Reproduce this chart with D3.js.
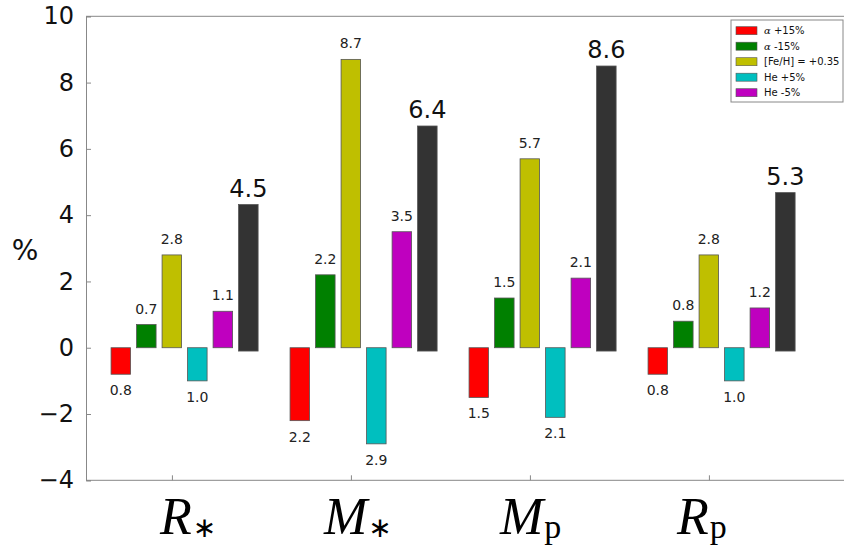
<!DOCTYPE html>
<html>
<head>
<meta charset="utf-8">
<script src="https://cdn.jsdelivr.net/npm/d3@7/dist/d3.min.js"></script>
<style>
  html, body { margin: 0; padding: 0; background: #fff; }
  svg { display: block; }
</style>
</head>
<body>
<svg id="chart" width="844" height="547"></svg>
<script>
// ---------------- data ----------------
const categories = [
  { base: "R", sub: "∗" },
  { base: "M", sub: "∗" },
  { base: "M", sub: "p" },
  { base: "R", sub: "p" }
];
const seriesNames = ["α +15%", "α -15%", "[Fe/H] = +0.35", "He +5%", "He -5%"];
const seriesColors = ["#ff0000", "#008000", "#bfbf00", "#00bfbf", "#bf00bf"];
const alphaPlus  = [-0.8, -2.2, -1.5, -0.8];
const alphaMinus = [0.7, 2.2, 1.5, 0.8];
const feh        = [2.8, 8.7, 5.7, 2.8];
const hePlus     = [-1.0, -2.9, -2.1, -1.0];
const heMinus    = [1.1, 3.5, 2.1, 1.2];
const totalTop    = [4.32, 6.69, 8.5, 4.68];
const totalBase   = -0.1;
const totalLabels = ["4.5", "6.4", "8.6", "5.3"];
const totalColor  = "#333333";
const yTicks = [-4, -2, 0, 2, 4, 6, 8, 10];

const seriesValues = [alphaPlus, alphaMinus, feh, hePlus, heMinus];

// ---------------- layout ----------------
const svg = d3.select("#chart");
const plotLeft = 86, plotTop = 16.3, plotBottom = 480.3, plotRight = 850;

const y = d3.scaleLinear().domain([-4, 10]).range([plotBottom, plotTop]);
// x in "group units": group i starts at i, bar j at i + j*step
const x = d3.scaleLinear().domain([-0.14, 4.33]).range([plotLeft, plotLeft + 4.47 * 179]);
const step = 0.1425, barW = 0.109, tickOffset = 0.34;
// label start offsets (px) relative to each tick, layout only
const labelShift = [-12, -27, -30, -32];

// frame
const axisColor = "#888";
svg.append("line").attr("x1", plotLeft).attr("x2", plotRight)
  .attr("y1", plotTop).attr("y2", plotTop)
  .attr("stroke", axisColor).attr("stroke-width", 1);

// y axis
const yAxis = d3.axisLeft(y).tickValues(yTicks).tickSize(-5).tickPadding(12)
  .tickFormat(d3.format("d"));
const gy = svg.append("g").attr("transform", `translate(${plotLeft},0)`).call(yAxis);
gy.select(".domain").attr("stroke", axisColor);
gy.selectAll(".tick line").attr("stroke", axisColor);
gy.selectAll(".tick text").attr("font-family", "DejaVu Sans").attr("font-size", 24)
  .attr("fill", "#111");

// x axis
const xAxis = d3.axisBottom(x).tickValues(categories.map((c, i) => i + tickOffset))
  .tickSize(-5).tickFormat("");
const gx = svg.append("g").attr("transform", `translate(0,${plotBottom})`).call(xAxis);
gx.select(".domain").attr("stroke", axisColor).attr("d", `M${plotLeft},0H${plotRight}`);
gx.selectAll(".tick line").attr("stroke", axisColor);

// category labels (math-style)
categories.forEach((c, i) => {
  const t = svg.append("text")
    .attr("x", x(i + tickOffset) + labelShift[i]).attr("y", 534)
    .attr("text-anchor", "start")
    .attr("font-family", "Liberation Serif")
    .attr("font-size", 52).attr("fill", "#000");
  t.append("tspan").attr("font-style", "italic").text(c.base);
  if (c.sub === "∗") {
    t.append("tspan").attr("font-size", 28).attr("dy", 3).attr("dx", 1)
      .attr("font-family", "DejaVu Sans").text(c.sub);
  } else {
    t.append("tspan").attr("font-size", 34).attr("dy", 4).attr("dx", 1)
      .attr("font-family", "Liberation Serif").text(c.sub);
  }
});

// y label
svg.append("text").attr("x", 25).attr("y", 260).attr("text-anchor", "middle")
  .attr("font-family", "DejaVu Sans").attr("font-size", 28).attr("fill", "#111").text("%");

// bars
const bars = [];
seriesValues.forEach((vals, j) => {
  vals.forEach((v, i) => bars.push({ i, j, v, color: seriesColors[j] }));
});
svg.append("g").selectAll("rect.b").data(bars).join("rect")
  .attr("x", d => x(d.i + d.j * step))
  .attr("width", x(barW) - x(0))
  .attr("y", d => y(Math.max(0, d.v)))
  .attr("height", d => Math.abs(y(d.v) - y(0)))
  .attr("fill", d => d.color)
  .attr("stroke", "#555").attr("stroke-width", 0.8);

svg.append("g").selectAll("text").data(bars).join("text")
  .attr("x", d => x(d.i + d.j * step + barW / 2))
  .attr("y", d => d.v >= 0 ? y(d.v) - 11 : y(d.v) + 21)
  .attr("text-anchor", "middle")
  .attr("font-family", "DejaVu Sans").attr("font-size", 14).attr("fill", "#222")
  .text(d => Math.abs(d.v).toFixed(1));

// total bars
const totals = totalTop.map((v, i) => ({ i, v, label: totalLabels[i] }));
svg.append("g").selectAll("rect").data(totals).join("rect")
  .attr("x", d => x(d.i + 5 * step))
  .attr("width", x(barW) - x(0))
  .attr("y", d => y(d.v))
  .attr("height", d => y(totalBase) - y(d.v))
  .attr("fill", totalColor).attr("stroke", "#555").attr("stroke-width", 0.8);
svg.append("g").selectAll("text").data(totals).join("text")
  .attr("x", d => x(d.i + 5 * step + barW / 2))
  .attr("y", d => y(d.v) - 8)
  .attr("text-anchor", "middle")
  .attr("font-family", "DejaVu Sans").attr("font-size", 24).attr("fill", "#111")
  .text(d => d.label);

// legend
const lg = svg.append("g").attr("transform", "translate(731,20)");
lg.append("rect").attr("x", 0).attr("y", 0).attr("width", 112).attr("height", 82)
  .attr("fill", "#fff").attr("stroke", "#888").attr("stroke-width", 1);
seriesNames.forEach((name, j) => {
  const cy = 10.7 + j * 15.5;
  lg.append("rect").attr("x", 5).attr("y", cy - 4).attr("width", 21).attr("height", 8)
    .attr("fill", seriesColors[j]).attr("stroke", "#555").attr("stroke-width", 0.6);
  const t = lg.append("text").attr("x", 33).attr("y", cy + 3.5)
    .attr("font-family", "DejaVu Sans").attr("font-size", 10).attr("fill", "#111");
  if (name.startsWith("α")) {
    t.append("tspan").attr("font-family", "DejaVu Serif").attr("font-style", "italic").text("α");
    t.append("tspan").text(name.slice(1));
  } else {
    t.text(name);
  }
});
</script>
</body>
</html>
